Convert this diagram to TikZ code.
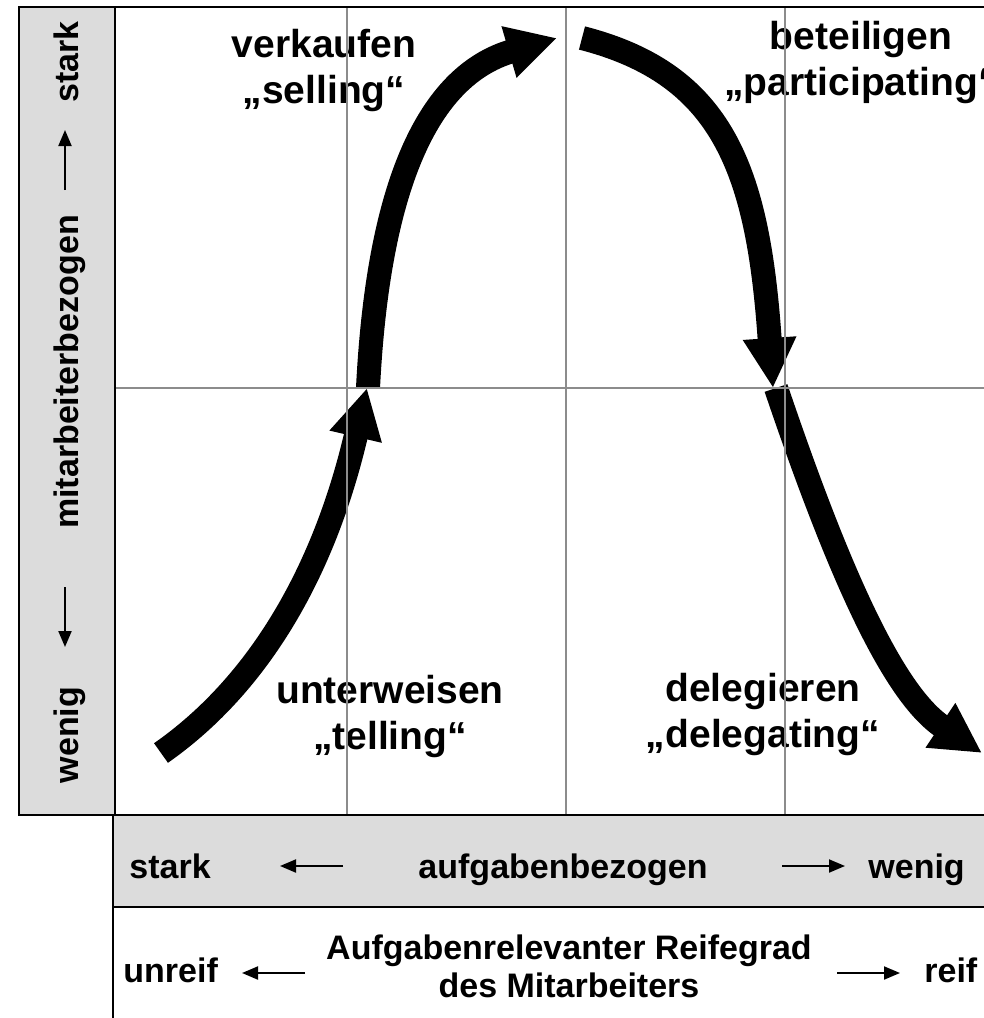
\documentclass[tikz,border=0pt]{standalone}
\usepackage{fontspec}
\setmainfont{Liberation Sans}
\usetikzlibrary{arrows.meta}
\definecolor{barfill}{RGB}{220,220,220}
\definecolor{gridgray}{RGB}{140,140,140}

\begin{document}
\begin{tikzpicture}[x=0.5pt, y=-0.5pt,
  quad/.style={font=\fontsize{19.5}{23}\selectfont\bfseries, align=center},
  axis/.style={font=\fontsize{17}{19}\selectfont\bfseries, inner sep=0pt},
  bar/.style={draw, line width=1pt, fill=barfill},
  frame/.style={draw, line width=1pt},
  gridln/.style={gridgray, line width=0.8pt},
  phase/.style={line width=12pt, -{Triangle[length=25pt,width=25pt]}},
  dir/.style={line width=1pt, -{Triangle[length=8pt,width=6.5pt]}}]
\useasboundingbox (0,0) rectangle (984,1018);
\clip (0,0) rectangle (984,1018);
% frames
\path[bar] (19,7) rectangle (115,815);
\path[frame] (115,7) rectangle (1010,815);
\path[bar] (113,815) rectangle (1010,907);
\path[frame] (113,907) rectangle (1010,1030);
% left axis
\node[axis, rotate=90, anchor=base] (lstark) at (78,62) {stark};
\node[axis, rotate=90, anchor=base] (lmit) at (78,372) {mitarbeiterbezogen};
\node[axis, rotate=90, anchor=base] (lwenig) at (78,735) {wenig};
\coordinate (upT) at (65,190);
\coordinate (upH) at (65,130);
\coordinate (dnT) at (65,587);
\coordinate (dnH) at (65,647);
\draw[dir] (upT) -- (upH);
\draw[dir] (dnT) -- (dnH);
% bottom axis
\node[axis, anchor=base west] (bstark) at (129,878) {stark};
\node[axis, anchor=base] (bauf) at (563,878) {aufgabenbezogen};
\node[axis, anchor=base west] (bwenig) at (868,878) {wenig};
\coordinate (lfT) at (343,866);
\coordinate (lfH) at (280,866);
\coordinate (rgT) at (782,866);
\coordinate (rgH) at (845,866);
\draw[dir] (lfT) -- (lfH);
\draw[dir] (rgT) -- (rgH);
% maturity
\node[axis, anchor=base west] (unreif) at (123,982) {unreif};
\node[axis, align=center] (reife) at (569,966) {Aufgabenrelevanter Reifegrad\\des Mitarbeiters};
\node[axis, anchor=base west] (reif) at (924,982) {reif};
\coordinate (mlT) at (305,973);
\coordinate (mlH) at (242,973);
\coordinate (mrT) at (837,973);
\coordinate (mrH) at (900,973);
\draw[dir] (mlT) -- (mlH);
\draw[dir] (mrT) -- (mrH);
% styles
\node[quad] (sell) at (324,70) {verkaufen\\„selling“};
\node[quad] (part) at (861,62) {beteiligen\\„participating“};
\node[quad] (tell) at (390,716) {unterweisen\\„telling“};
\node[quad] (dele) at (763,714) {delegieren\\„delegating“};
% curve
\coordinate (tellS) at (161,753);
\coordinate (tellE) at (367,388);
\coordinate (sellS) at (368,388);
\coordinate (sellE) at (557,38);
\coordinate (partS) at (582,38);
\coordinate (partE) at (773,388);
\coordinate (deleS) at (776,388);
\coordinate (deleE) at (982,753);
\draw[phase] (tellS) .. controls (261,683) and (325,568) .. (tellE);
\draw[phase] (sellS) .. controls (378,188) and (427,76) .. (sellE);
\draw[phase] (partS) .. controls (722,74) and (758,168) .. (partE);
\draw[phase] (deleS) .. controls (837,568) and (892,693) .. (deleE);
% grid
\foreach \gx in {347,566,785}
  \draw[gridln] (\gx,8) -- (\gx,814);
\draw[gridln] (116,388) -- (1010,388);
\end{tikzpicture}
\end{document}
